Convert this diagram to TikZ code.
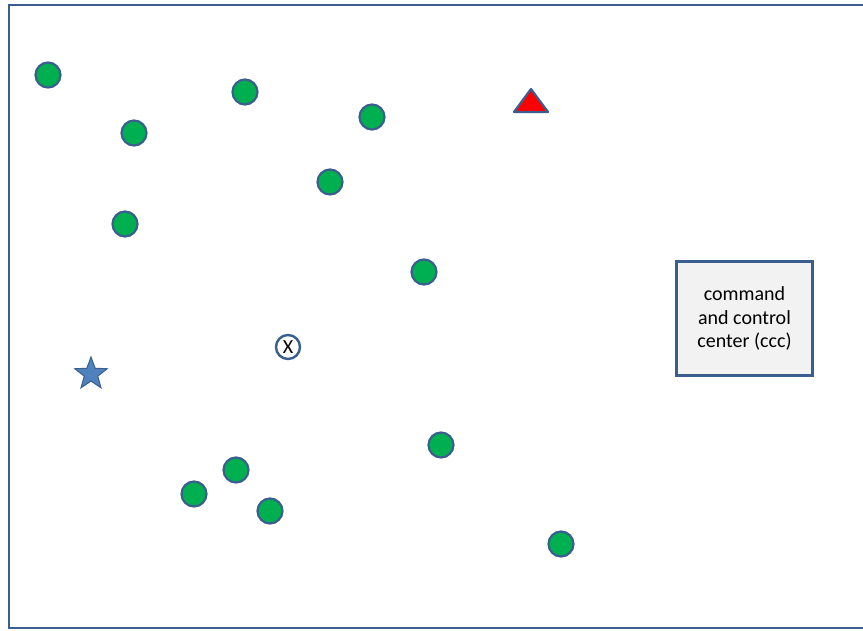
\documentclass[tikz,border=0pt]{standalone}
\usepackage{fontspec}
\setmainfont{Carlito}
\usetikzlibrary{shapes.geometric}
\definecolor{edgeblue}{HTML}{3A5F8F}
\definecolor{dotgreen}{HTML}{00B050}
\definecolor{starblue}{HTML}{4F81BD}
\definecolor{boxgray}{HTML}{F2F2F2}
\tikzset{
  dot/.style={circle, draw=edgeblue, line width=2.2pt, fill=dotgreen, minimum size=25pt, inner sep=0pt},
  xmark/.style={circle, draw=edgeblue, line width=2.4pt, fill=white, minimum size=24pt, inner sep=0pt, font=\fontsize{20}{20}\selectfont},
  ccc/.style={draw=edgeblue, line width=2.4pt, fill=boxgray, minimum width=136pt, minimum height=114pt, align=center, font=\fontsize{20}{23.5}\selectfont},
}
\begin{document}
\begin{tikzpicture}[x=1pt,y=-1pt]
\useasboundingbox (0,0) rectangle (863,630);
\fill[white] (0,0) rectangle (863,630);
\draw[edgeblue, line width=2.5pt] (863,5) -- (9,5) -- (9,628) -- (863,628);
\node[dot] (d1) at (48,75) {};
\node[dot] (d2) at (134,133) {};
\node[dot] (d3) at (245,92) {};
\node[dot] (d4) at (372,117) {};
\node[dot] (d5) at (330,182) {};
\node[dot] (d6) at (125,224) {};
\node[dot] (d7) at (424,272) {};
\node[dot] (d8) at (441,445) {};
\node[dot] (d9) at (236,470) {};
\node[dot] (d10) at (194,494) {};
\node[dot] (d11) at (270,511) {};
\node[dot] (d12) at (561,544) {};
\node[xmark] (x) at (288,347) {X};
\node[star, star points=5, star point ratio=2.4, minimum size=34pt, inner sep=0pt, fill=starblue, draw=edgeblue, line width=1pt] (s) at (91,374) {};
\draw[edgeblue, line width=2.2pt, fill=red, line join=round] (531,89) -- (548,112) -- (514,112) -- cycle;
\node[ccc] (c) at (744.5,318.5) {command\\and control\\center (ccc)};
\end{tikzpicture}
\end{document}
